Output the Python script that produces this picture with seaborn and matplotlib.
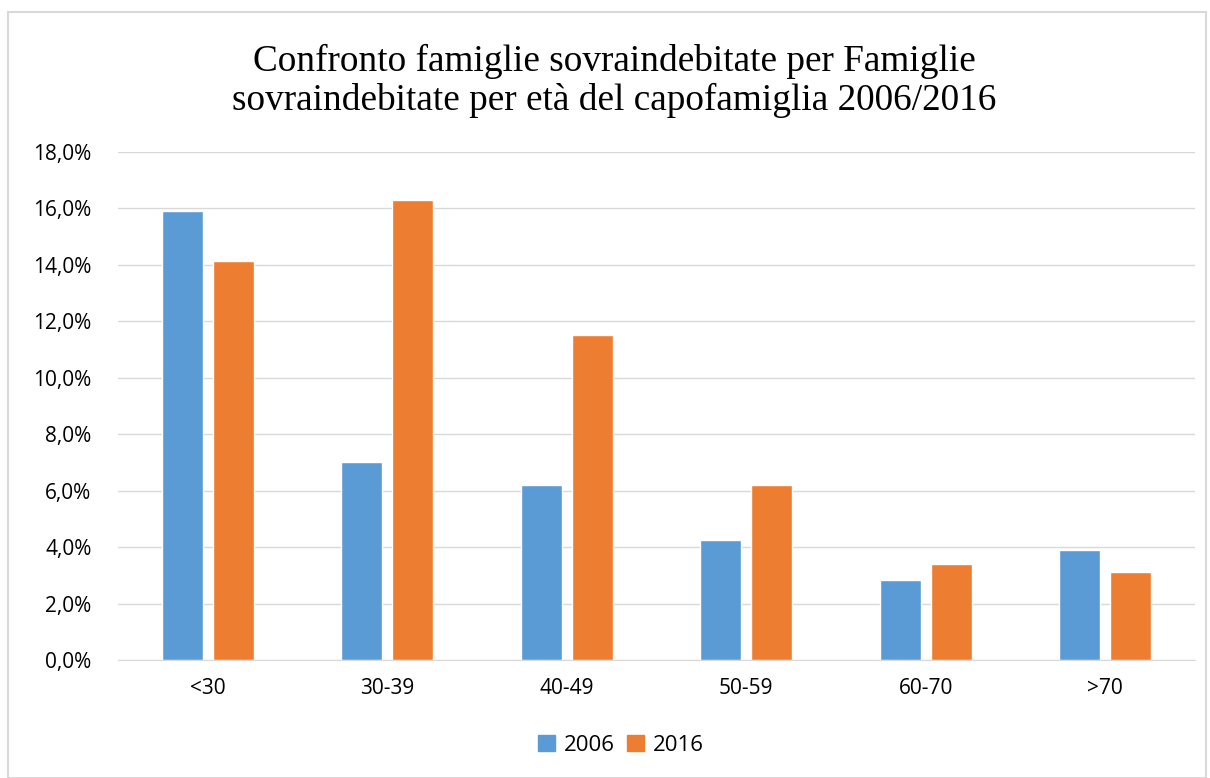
import pandas as pd
import matplotlib.pyplot as plt
import seaborn as sns
from matplotlib.patches import Rectangle
from matplotlib.ticker import FuncFormatter

# dati (percentuali)
classi = ["<30", "30-39", "40-49", "50-59", "60-70", ">70"]
anno_2006 = [15.9, 7.0, 6.2, 4.25, 2.85, 3.9]
anno_2016 = [14.15, 16.3, 11.5, 6.2, 3.4, 3.1]
anni = ["2006", "2016"]
colori = ["#5B9BD5", "#ED7D31"]

df = pd.DataFrame({
    "eta": classi * 2,
    "valore": anno_2006 + anno_2016,
    "anno": ["2006"] * len(classi) + ["2016"] * len(classi),
})

sns.set_style("white")
plt.rcParams["font.family"] = ["Open Sans", "DejaVu Sans"]
plt.rcParams["text.color"] = "black"

fig = plt.figure(figsize=(12.1, 7.78), dpi=100)
ax = fig.add_axes([0.0975, 0.1517, 0.89, 0.6529])

sns.barplot(data=df, x="eta", y="valore", hue="anno", hue_order=anni,
            palette=colori, width=0.568, gap=0.196, saturation=1,
            ax=ax, legend=False)

ax.set_ylim(0, 18)
ax.set_yticks(range(0, 19, 2))
ax.yaxis.set_major_formatter(FuncFormatter(lambda v, p: f"{v:.1f}%".replace(".", ",")))
ax.grid(axis="y", color="#D9D9D9", linewidth=1)
ax.set_axisbelow(True)
for s in ["top", "right", "left"]:
    ax.spines[s].set_visible(False)
ax.spines["bottom"].set_color("#D9D9D9")
ax.tick_params(axis="both", length=0, labelsize=15, colors="#000000")
ax.tick_params(axis="y", pad=19)
ax.tick_params(axis="x", pad=13)
ax.set_xlabel("")
ax.set_ylabel("")

fig.text(0.508, 0.896, "Confronto famiglie sovraindebitate per Famiglie\nsovraindebitate per età del capofamiglia 2006/2016",
         ha="center", va="center", fontsize=26.8, family="Liberation Serif",
         linespacing=1.15, color="black")

handles = [Rectangle((0, 0), 1, 1, color=c) for c in colori]
fig.legend(handles, anni, loc="center", bbox_to_anchor=(0.513, 0.042), ncol=2,
           frameon=False, fontsize=16, handlelength=0.75, handleheight=0.75,
           columnspacing=0.55, handletextpad=0.4, labelcolor="black")

# cornice del grafico
fig.add_artist(Rectangle((0.0066, 0.0), 0.99, 0.984, transform=fig.transFigure,
                         fill=False, edgecolor="#D9D9D9", linewidth=1.5))

plt.savefig("out.png", dpi=100)
plt.close()
